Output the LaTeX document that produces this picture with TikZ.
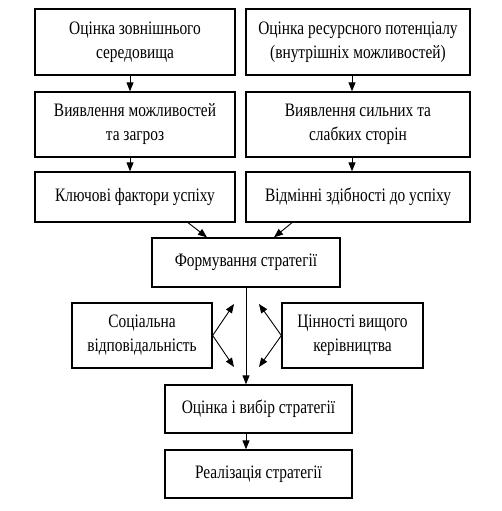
\documentclass[tikz,border=0pt]{standalone}
\usepackage{fontspec}
\setmainfont{Liberation Serif}[FakeStretch=0.81]
\usetikzlibrary{arrows.meta,positioning}

\begin{document}
\begin{tikzpicture}[x=1pt,y=-1pt,
  box/.style={draw,line width=1.3pt,align=center,inner sep=0pt,font=\fontsize{19}{24}\selectfont},
  arr/.style={-{Triangle[length=9pt,width=7pt]},line width=0.9pt}]
  \useasboundingbox (0,0) rectangle (501,511);
  \foreach \n/\x/\y/\w/\h/\t in {ext/135/42/200/66/{Оцінка зовнішнього\\середовища},
                                 res/358/42/224/66/{Оцінка ресурсного потенціалу\\(внутрішніх можливостей)},
                                 opp/135/124.5/200/65/{Виявлення можливостей\\та загроз},
                                 swt/358/124.5/224/65/{Виявлення сильних та\\слабких сторін},
                                 kfs/135/197/200/50/{Ключові фактори успіху},
                                 dis/358/197/224/50/{Відмінні здібності до успіху},
                                 form/246/262.5/188/49/{Формування стратегії},
                                 soc/142/335.5/140/65/{Соціальна\\відповідальність},
                                 val/352.5/335.5/141/65/{Цінності вищого\\керівництва},
                                 eval/258.5/409/187/48/{Оцінка і вибір стратегії},
                                 impl/258.5/474/187/48/{Реалізація стратегії}}{
    \node[box,minimum width=\w pt,minimum height=\h pt] (\n) at (\x,\y) {\t};}
  % free ends of the side arrows
  \coordinate (lu) at (234,304);
  \coordinate (ld) at (234,367);
  \coordinate (ru) at (259,304);
  \coordinate (rd) at (259,367);
  \draw[arr] ([xshift=-5pt]ext.south) -- ([xshift=-5pt]opp.north);
  \draw[arr] ([xshift=-5pt]opp.south) -- ([xshift=-5pt]kfs.north);
  \draw[arr] ([xshift=-6pt]res.south) -- ([xshift=-6pt]swt.north);
  \draw[arr] ([xshift=-6pt]swt.south) -- ([xshift=-6pt]dis.north);
  \draw[arr] ([xshift=53pt]kfs.south) -- ([xshift=-39pt]form.north);
  \draw[arr] ([xshift=-66pt]dis.south) -- ([xshift=28pt]form.north);
  \draw[arr] (form.south) -- (form.south |- eval.north);
  \draw[arr] (form.south |- eval.south) -- (form.south |- impl.north);
  \draw[arr] (soc.east) -- (lu);
  \draw[arr] (soc.east) -- (ld);
  \draw[arr] (val.west) -- (ru);
  \draw[arr] (val.west) -- (rd);
\end{tikzpicture}
\end{document}
